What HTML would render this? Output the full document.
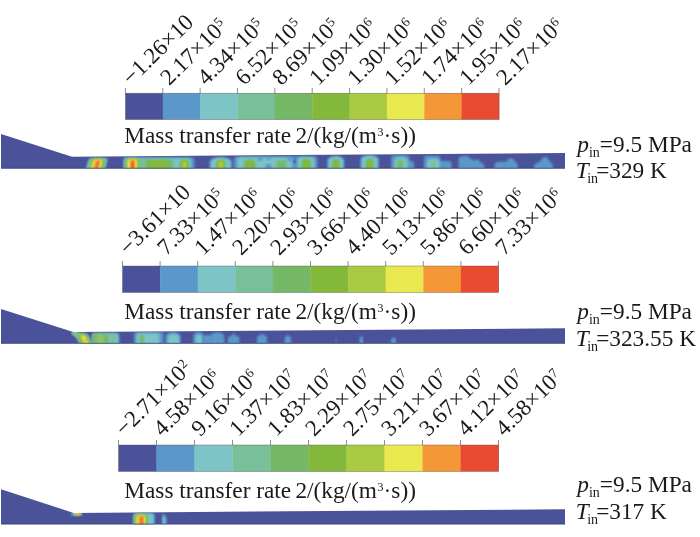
<!DOCTYPE html>
<html><head><meta charset="utf-8"><title>Mass transfer rate</title>
<style>
html,body{margin:0;padding:0;background:#fff;}
body{width:700px;height:537px;position:relative;overflow:hidden;font-family:"Liberation Serif",serif;color:#1a1a1a;}
svg{position:absolute;left:0;top:0;}
.t{position:absolute;white-space:nowrap;font-size:23.3px;line-height:1;}
.r{position:absolute;white-space:nowrap;font-size:23px;line-height:1;transform-origin:0 100%;transform:rotate(-44.5deg);}
.sup{font-size:13.5px;position:relative;top:-7px;margin-left:0.4px;}
.sub{font-size:14px;position:relative;top:5px;}
i{font-style:italic;}
</style></head><body>

<svg width="700" height="537" viewBox="0 0 700 537">
<defs><filter id="b1" x="-20%" y="-50%" width="140%" height="200%"><feGaussianBlur stdDeviation="0.8"/></filter><filter id="b2" x="-20%" y="-50%" width="140%" height="200%"><feGaussianBlur stdDeviation="1.0"/></filter></defs>
<clipPath id="c0"><polygon points="1,134.0 72,156.7 565,153.0 565,168.5 1,168.5"/></clipPath>
<polygon points="1,134.0 72,156.7 565,153.0 565,168.5 1,168.5" fill="#4a5299"/>
<g clip-path="url(#c0)">
<g transform="translate(95.8,168.5) skewX(-14) translate(-95.8,-168.5)"><path d="M86.0,172.0 L86.0,160.1 Q86.0,158.3 87.8,158.3 L103.7,158.3 Q105.5,158.3 105.5,160.1 L105.5,172.0 Z" fill="#5b97c9" filter="url(#b1)"/>
<path d="M87.0,172.0 L87.0,160.4 Q87.0,158.6 88.8,158.6 L102.7,158.6 Q104.5,158.6 104.5,160.4 L104.5,172.0 Z" fill="#7cc4c6" filter="url(#b1)"/>
<path d="M88.2,172.0 L88.2,160.7 Q88.2,158.9 90.0,158.9 L101.5,158.9 Q103.3,158.9 103.3,160.7 L103.3,172.0 Z" fill="#78bf9a" filter="url(#b1)"/>
<path d="M89.0,172.0 L89.0,161.0 Q89.0,159.2 90.8,159.2 L100.7,159.2 Q102.5,159.2 102.5,161.0 L102.5,172.0 Z" fill="#74b865" filter="url(#b1)"/>
<path d="M89.8,172.0 L89.8,161.2 Q89.8,159.4 91.6,159.4 L100.0,159.4 Q101.8,159.4 101.8,161.2 L101.8,172.0 Z" fill="#84b83a" filter="url(#b1)"/>
<path d="M90.6,172.0 L90.6,161.4 Q90.6,159.6 92.4,159.6 L99.2,159.6 Q101.0,159.6 101.0,161.4 L101.0,172.0 Z" fill="#a9cb43" filter="url(#b1)"/>
<path d="M91.4,172.0 L91.4,161.6 Q91.4,159.8 93.2,159.8 L98.4,159.8 Q100.2,159.8 100.2,161.6 L100.2,172.0 Z" fill="#e9e84e" filter="url(#b1)"/>
<path d="M93.0,172.0 L93.0,162.0 Q93.0,160.2 94.8,160.2 L96.9,160.2 Q98.7,160.2 98.7,162.0 L98.7,172.0 Z" fill="#f49737" filter="url(#b1)"/>
<path d="M95.6,172.0 L95.6,161.8 Q95.6,161.0 96.4,161.0 L96.4,161.0 Q97.2,161.0 97.2,161.8 L97.2,172.0 Z" fill="#e84a32" filter="url(#b1)"/></g>
<path d="M123.2,172.0 L123.2,160.6 Q123.2,157.6 126.2,157.6 L191.5,157.6 Q194.5,157.6 194.5,160.6 L194.5,172.0 Z" fill="#5b97c9" filter="url(#b1)"/>
<path d="M124.3,172.0 L124.3,161.3 Q124.3,158.3 127.3,158.3 L188.0,158.3 Q191.0,158.3 191.0,161.3 L191.0,172.0 Z" fill="#7cc4c6" filter="url(#b1)"/>
<path d="M137.0,172.0 L137.0,161.2 Q137.0,159.2 139.0,159.2 L172.5,159.2 Q174.5,159.2 174.5,161.2 L174.5,172.0 Z" fill="#78bf9a" filter="url(#b1)"/>
<path d="M125.3,172.0 L125.3,160.4 Q125.3,158.6 127.1,158.6 L137.7,158.6 Q139.5,158.6 139.5,160.4 L139.5,172.0 Z" fill="#78bf9a" filter="url(#b1)"/>
<path d="M125.9,172.0 L125.9,160.7 Q125.9,158.9 127.7,158.9 L137.2,158.9 Q139.0,158.9 139.0,160.7 L139.0,172.0 Z" fill="#74b865" filter="url(#b1)"/>
<path d="M126.5,172.0 L126.5,160.9 Q126.5,159.1 128.3,159.1 L136.6,159.1 Q138.4,159.1 138.4,160.9 L138.4,172.0 Z" fill="#84b83a" filter="url(#b1)"/>
<path d="M127.2,172.0 L127.2,161.1 Q127.2,159.3 129.0,159.3 L135.8,159.3 Q137.6,159.3 137.6,161.1 L137.6,172.0 Z" fill="#a9cb43" filter="url(#b1)"/>
<path d="M127.9,172.0 L127.9,161.3 Q127.9,159.5 129.7,159.5 L134.8,159.5 Q136.6,159.5 136.6,161.3 L136.6,172.0 Z" fill="#e9e84e" filter="url(#b1)"/>
<path d="M130.0,172.0 L130.0,161.8 Q130.0,160.0 131.8,160.0 L133.2,160.0 Q135.0,160.0 135.0,161.8 L135.0,172.0 Z" fill="#f49737" filter="url(#b1)"/>
<path d="M131.4,172.0 L131.4,161.9 Q131.4,160.8 132.6,160.8 L132.6,160.8 Q133.7,160.8 133.7,161.9 L133.7,172.0 Z" fill="#e84a32" filter="url(#b1)"/>
<path d="M146.0,172.0 L146.0,161.8 Q146.0,159.8 148.0,159.8 L170.0,159.8 Q172.0,159.8 172.0,161.8 L172.0,172.0 Z" fill="#74b865" filter="url(#b1)"/>
<path d="M149.5,172.0 L149.5,162.3 Q149.5,160.3 151.5,160.3 L165.0,160.3 Q167.0,160.3 167.0,162.3 L167.0,172.0 Z" fill="#84b83a" filter="url(#b1)"/>
<path d="M179.5,172.0 L179.5,163.2 A5.0,4.0 0 0 1 189.5,163.2 L189.5,172.0 Z" fill="#78bf9a" filter="url(#b1)"/>
<path d="M180.4,172.0 L180.4,163.6 A4.1,4.0 0 0 1 188.6,163.6 L188.6,172.0 Z" fill="#74b865" filter="url(#b1)"/>
<path d="M181.4,172.0 L181.4,163.2 A3.2,3.2 0 0 1 187.7,163.2 L187.7,172.0 Z" fill="#84b83a" filter="url(#b1)"/>
<path d="M182.3,172.0 L182.3,162.7 A2.2,2.2 0 0 1 186.8,162.7 L186.8,172.0 Z" fill="#a9cb43" filter="url(#b1)"/>
<path d="M209.5,172.0 L209.5,161.0 A11.2,4.0 0 0 1 232.0,161.0 L232.0,172.0 Z" fill="#5b97c9" filter="url(#b1)"/>
<path d="M211.1,172.0 L211.1,161.6 A9.7,4.0 0 0 1 230.4,161.6 L230.4,172.0 Z" fill="#7cc4c6" filter="url(#b1)"/>
<path d="M215.1,172.0 L215.1,163.1 A5.6,4.0 0 0 1 226.4,163.1 L226.4,172.0 Z" fill="#78bf9a" filter="url(#b1)"/>
<path d="M216.5,172.0 L216.5,163.6 A4.3,4.0 0 0 1 225.0,163.6 L225.0,172.0 Z" fill="#74b865" filter="url(#b1)"/>
<path d="M217.7,172.0 L217.7,163.1 A3.0,3.0 0 0 1 223.8,163.1 L223.8,172.0 Z" fill="#84b83a" filter="url(#b1)"/>
<path d="M218.7,172.0 L218.7,162.4 A2.0,2.0 0 0 1 222.8,162.4 L222.8,172.0 Z" fill="#a9cb43" filter="url(#b1)"/>
<path d="M234.0,172.0 L234.0,159.6 Q234.0,156.6 237.0,156.6 L314.5,156.6 Q317.5,156.6 317.5,159.6 L317.5,172.0 Z" fill="#5b97c9" filter="url(#b1)"/>
<path d="M237.5,172.0 L237.5,160.3 Q237.5,157.3 240.5,157.3 L289.0,157.3 Q292.0,157.3 292.0,160.3 L292.0,172.0 Z" fill="#7cc4c6" filter="url(#b1)"/>
<path d="M243.0,172.0 L243.0,163.0 A6.8,4.0 0 0 1 256.5,163.0 L256.5,172.0 Z" fill="#78bf9a" filter="url(#b1)"/>
<path d="M244.5,172.0 L244.5,163.6 A5.2,4.0 0 0 1 255.0,163.6 L255.0,172.0 Z" fill="#74b865" filter="url(#b1)"/>
<path d="M246.0,172.0 L246.0,163.9 A3.8,3.8 0 0 1 253.5,163.9 L253.5,172.0 Z" fill="#84b83a" filter="url(#b1)"/>
<path d="M257.5,160.5 L257.5,159.0 Q257.5,157.0 259.5,157.0 L261.0,157.0 Q263.0,157.0 263.0,159.0 L263.0,160.5 Z" fill="#5b97c9" filter="url(#b1)"/>
<path d="M266.5,159.8 L266.5,159.6 Q266.5,157.6 268.5,157.6 L269.5,157.6 Q271.5,157.6 271.5,159.6 L271.5,159.8 Z" fill="#5b97c9" filter="url(#b1)"/>
<path d="M265.5,172.0 L265.5,166.0 Q265.5,164.0 267.5,164.0 L269.5,164.0 Q271.5,164.0 271.5,166.0 L271.5,172.0 Z" fill="#5b97c9" filter="url(#b1)"/>
<path d="M287.5,161.0 L287.5,159.0 Q287.5,157.0 289.5,157.0 L290.0,157.0 Q292.0,157.0 292.0,159.0 L292.0,161.0 Z" fill="#5b97c9" filter="url(#b1)"/>
<path d="M275.5,172.0 L275.5,162.0 Q275.5,160.0 277.5,160.0 L285.5,160.0 Q287.5,160.0 287.5,162.0 L287.5,172.0 Z" fill="#78bf9a" filter="url(#b1)"/>
<path d="M277.5,172.0 L277.5,163.0 Q277.5,161.0 279.5,161.0 L283.5,161.0 Q285.5,161.0 285.5,163.0 L285.5,172.0 Z" fill="#74b865" filter="url(#b1)"/>
<path d="M293.5,163.0 L293.5,160.2 Q293.5,159.0 294.7,159.0 L294.8,159.0 Q296.0,159.0 296.0,160.2 L296.0,163.0 Z" fill="#4a5299" filter="url(#b1)"/>
<path d="M297.8,172.0 L297.8,160.0 Q297.8,157.0 300.8,157.0 L311.5,157.0 Q314.5,157.0 314.5,160.0 L314.5,172.0 Z" fill="#7cc4c6" filter="url(#b1)"/>
<path d="M300.5,172.0 L300.5,162.6 A5.5,4.0 0 0 1 311.5,162.6 L311.5,172.0 Z" fill="#78bf9a" filter="url(#b1)"/>
<path d="M302.0,172.0 L302.0,163.3 A4.2,4.0 0 0 1 310.5,163.3 L310.5,172.0 Z" fill="#74b865" filter="url(#b1)"/>
<path d="M303.5,172.0 L303.5,163.0 A3.0,3.0 0 0 1 309.5,163.0 L309.5,172.0 Z" fill="#84b83a" filter="url(#b1)"/>
<path d="M327.3,172.0 L327.3,160.0 A8.5,4.0 0 0 1 344.3,160.0 L344.3,172.0 Z" fill="#5b97c9" filter="url(#b1)"/>
<path d="M328.5,172.0 L328.5,160.8 A7.3,4.0 0 0 1 343.1,160.8 L343.1,172.0 Z" fill="#7cc4c6" filter="url(#b1)"/>
<path d="M331.6,172.0 L331.6,162.9 A4.2,4.0 0 0 1 340.1,162.9 L340.1,172.0 Z" fill="#78bf9a" filter="url(#b1)"/>
<path d="M332.6,172.0 L332.6,162.8 A3.2,3.2 0 0 1 339.0,162.8 L339.0,172.0 Z" fill="#74b865" filter="url(#b1)"/>
<path d="M333.5,172.0 L333.5,162.5 A2.3,2.3 0 0 1 338.1,162.5 L338.1,172.0 Z" fill="#84b83a" filter="url(#b1)"/>
<path d="M360.4,172.0 L360.4,159.0 A9.2,4.0 0 0 1 378.8,159.0 L378.8,172.0 Z" fill="#5b97c9" filter="url(#b1)"/>
<path d="M361.7,172.0 L361.7,159.9 A7.9,4.0 0 0 1 377.5,159.9 L377.5,172.0 Z" fill="#7cc4c6" filter="url(#b1)"/>
<path d="M365.0,172.0 L365.0,162.3 A4.6,4.0 0 0 1 374.2,162.3 L374.2,172.0 Z" fill="#78bf9a" filter="url(#b1)"/>
<path d="M366.1,172.0 L366.1,162.6 A3.5,3.5 0 0 1 373.1,162.6 L373.1,172.0 Z" fill="#74b865" filter="url(#b1)"/>
<path d="M367.1,172.0 L367.1,162.3 A2.5,2.5 0 0 1 372.1,162.3 L372.1,172.0 Z" fill="#84b83a" filter="url(#b1)"/>
<path d="M391.2,172.0 L391.2,158.2 Q391.2,155.2 394.2,155.2 L406.5,155.2 Q409.5,155.2 409.5,158.2 L409.5,172.0 Z" fill="#5b97c9" filter="url(#b1)"/>
<path d="M400.0,172.0 L400.0,164.0 Q400.0,161.0 403.0,161.0 L411.0,161.0 Q414.0,161.0 414.0,164.0 L414.0,172.0 Z" fill="#5b97c9" filter="url(#b1)"/>
<path d="M394.5,172.0 L394.5,161.0 A6.5,4.0 0 0 1 407.5,161.0 L407.5,172.0 Z" fill="#7cc4c6" filter="url(#b1)"/>
<path d="M396.2,172.0 L396.2,162.8 A4.2,4.0 0 0 1 404.8,162.8 L404.8,172.0 Z" fill="#78bf9a" filter="url(#b1)"/>
<path d="M398.0,172.0 L398.0,162.5 A2.0,2.0 0 0 1 402.0,162.5 L402.0,172.0 Z" fill="#74b865" filter="url(#b1)"/>
<path d="M424.0,172.0 L424.0,158.8 Q424.0,155.8 427.0,155.8 L437.5,155.8 Q440.5,155.8 440.5,158.8 L440.5,172.0 Z" fill="#5b97c9" filter="url(#b1)"/>
<path d="M432.0,172.0 L432.0,164.0 Q432.0,161.0 435.0,161.0 L448.5,161.0 Q451.5,161.0 451.5,164.0 L451.5,172.0 Z" fill="#5b97c9" filter="url(#b1)"/>
<path d="M427.2,172.0 L427.2,162.0 A6.2,4.0 0 0 1 439.5,162.0 L439.5,172.0 Z" fill="#7cc4c6" filter="url(#b1)"/>
<path d="M431.0,172.0 L431.0,163.0 A2.5,2.5 0 0 1 436.0,163.0 L436.0,172.0 Z" fill="#78bf9a" filter="url(#b1)"/>
<polygon points="458.5,172.0 458.5,158.5 460.5,156.2 468.0,156.0 470.5,158.5 474.0,160.8 475.5,159.6 478.5,159.6 480.0,161.8 483.0,163.5 484.5,166.0 484.5,172.0" fill="#5b97c9" filter="url(#b1)"/>
<polygon points="494.5,172.0 494.5,164.0 496.5,162.0 507.0,161.6 508.5,158.6 513.0,158.4 514.5,161.0 516.5,162.5 517.8,165.0 517.8,172.0" fill="#5b97c9" filter="url(#b1)"/>
<polygon points="534.0,172.0 534.0,165.5 536.5,163.0 540.0,161.5 543.0,157.2 546.5,156.8 549.0,160.5 552.0,163.5 553.0,166.0 553.0,172.0" fill="#5b97c9" filter="url(#b1)"/>
</g>
<line x1="1" y1="168.2" x2="565" y2="168.2" stroke="#3b426f" stroke-width="0.7"/>
<rect x="125.40" y="93.2" width="37.66" height="26.39999999999999" fill="#4a5299"/>
<rect x="162.76" y="93.2" width="37.66" height="26.39999999999999" fill="#5b97c9"/>
<rect x="200.12" y="93.2" width="37.66" height="26.39999999999999" fill="#7cc4c6"/>
<rect x="237.48" y="93.2" width="37.66" height="26.39999999999999" fill="#78bf9a"/>
<rect x="274.84" y="93.2" width="37.66" height="26.39999999999999" fill="#74b865"/>
<rect x="312.20" y="93.2" width="37.66" height="26.39999999999999" fill="#84b83a"/>
<rect x="349.56" y="93.2" width="37.66" height="26.39999999999999" fill="#a9cb43"/>
<rect x="386.92" y="93.2" width="37.66" height="26.39999999999999" fill="#e9e84e"/>
<rect x="424.28" y="93.2" width="37.66" height="26.39999999999999" fill="#f49737"/>
<rect x="461.64" y="93.2" width="37.66" height="26.39999999999999" fill="#e84a32"/>
<rect x="125.4" y="93.2" width="373.6" height="26.39999999999999" fill="none" stroke="#555" stroke-width="0.5" stroke-opacity="0.8"/>
<line x1="125.40" y1="88.0" x2="125.40" y2="93.2" stroke="#444" stroke-width="0.6"/>
<line x1="162.76" y1="88.0" x2="162.76" y2="93.2" stroke="#444" stroke-width="0.6"/>
<line x1="200.12" y1="88.0" x2="200.12" y2="93.2" stroke="#444" stroke-width="0.6"/>
<line x1="237.48" y1="88.0" x2="237.48" y2="93.2" stroke="#444" stroke-width="0.6"/>
<line x1="274.84" y1="88.0" x2="274.84" y2="93.2" stroke="#444" stroke-width="0.6"/>
<line x1="312.20" y1="88.0" x2="312.20" y2="93.2" stroke="#444" stroke-width="0.6"/>
<line x1="349.56" y1="88.0" x2="349.56" y2="93.2" stroke="#444" stroke-width="0.6"/>
<line x1="386.92" y1="88.0" x2="386.92" y2="93.2" stroke="#444" stroke-width="0.6"/>
<line x1="424.28" y1="88.0" x2="424.28" y2="93.2" stroke="#444" stroke-width="0.6"/>
<line x1="461.64" y1="88.0" x2="461.64" y2="93.2" stroke="#444" stroke-width="0.6"/>
<line x1="499.00" y1="88.0" x2="499.00" y2="93.2" stroke="#444" stroke-width="0.6"/>
<clipPath id="c1"><polygon points="1,309.0 73.2,332.1 565,328.3 565,343.6 1,343.6"/></clipPath>
<polygon points="1,309.0 73.2,332.1 565,328.3 565,343.6 1,343.6" fill="#4a5299"/>
<g clip-path="url(#c1)">
<path d="M73.6,332.6 L82.5,338.6" fill="none" stroke="#7cc4c6" stroke-width="4.6" stroke-linecap="round" filter="url(#b1)"/>
<path d="M73.8,332.7 L82.5,338.6" fill="none" stroke="#74b865" stroke-width="3.0" stroke-linecap="round" filter="url(#b1)"/>
<path d="M74.2,332.9 L82.5,338.6" fill="none" stroke="#a9cb43" stroke-width="1.6" stroke-linecap="round" filter="url(#b1)"/>
<g transform="translate(86,343.6) skewX(24) translate(-86,-343.6)"><path d="M79.6,347.0 L79.6,335.6 Q79.6,333.6 81.6,333.6 L90.0,333.6 Q92.0,333.6 92.0,335.6 L92.0,347.0 Z" fill="#7cc4c6" filter="url(#b1)"/>
<path d="M80.4,347.0 L80.4,336.0 Q80.4,334.0 82.4,334.0 L89.2,334.0 Q91.2,334.0 91.2,336.0 L91.2,347.0 Z" fill="#78bf9a" filter="url(#b1)"/>
<path d="M81.2,347.0 L81.2,336.3 Q81.2,334.3 83.2,334.3 L88.6,334.3 Q90.6,334.3 90.6,336.3 L90.6,347.0 Z" fill="#74b865" filter="url(#b1)"/>
<path d="M82.2,347.0 L82.2,336.6 Q82.2,334.6 84.2,334.6 L88.0,334.6 Q90.0,334.6 90.0,336.6 L90.0,347.0 Z" fill="#84b83a" filter="url(#b1)"/>
<path d="M83.4,347.0 L83.4,336.9 Q83.4,334.9 85.4,334.9 L87.2,334.9 Q89.2,334.9 89.2,336.9 L89.2,347.0 Z" fill="#a9cb43" filter="url(#b1)"/>
<path d="M84.6,347.0 L84.6,337.1 Q84.6,335.6 86.1,335.6 L86.7,335.6 Q88.2,335.6 88.2,337.1 L88.2,347.0 Z" fill="#e9e84e" filter="url(#b1)"/>
<path d="M85.8,347.0 L85.8,339.3 Q85.8,338.5 86.6,338.5 L86.6,338.5 Q87.4,338.5 87.4,339.3 L87.4,347.0 Z" fill="#f49737" filter="url(#b2)"/></g>
<path d="M92.0,347.0 L92.0,335.3 Q92.0,333.3 94.0,333.3 L117.6,333.3 Q119.6,333.3 119.6,335.3 L119.6,347.0 Z" fill="#5b97c9" filter="url(#b1)"/>
<path d="M92.3,347.0 L92.3,335.5 Q92.3,333.5 94.3,333.5 L116.0,333.5 Q118.0,333.5 118.0,335.5 L118.0,347.0 Z" fill="#7cc4c6" filter="url(#b1)"/>
<path d="M92.6,347.0 L92.6,335.6 A2.0,2.0 0 0 1 96.6,335.6 L96.6,347.0 Z" fill="#74b865" filter="url(#b1)"/>
<path d="M97.6,347.0 L97.6,336.0 A2.4,2.4 0 0 1 102.4,336.0 L102.4,347.0 Z" fill="#74b865" filter="url(#b1)"/>
<path d="M98.0,347.0 L98.0,335.8 A2.0,2.0 0 0 1 102.0,335.8 L102.0,347.0 Z" fill="#84b83a" filter="url(#b1)"/>
<path d="M98.6,347.0 L98.6,335.5 A1.5,1.5 0 0 1 101.6,335.5 L101.6,347.0 Z" fill="#a9cb43" filter="url(#b1)"/>
<path d="M102.6,347.0 L102.6,336.8 A3.0,3.0 0 0 1 108.6,336.8 L108.6,347.0 Z" fill="#78bf9a" filter="url(#b1)"/>
<path d="M104.3,347.0 L104.3,336.0 A2.0,2.0 0 0 1 108.3,336.0 L108.3,347.0 Z" fill="#74b865" filter="url(#b1)"/>
<path d="M110.0,347.0 L110.0,336.7 A2.9,2.9 0 0 1 115.8,336.7 L115.8,347.0 Z" fill="#78bf9a" filter="url(#b1)"/>
<path d="M134.0,347.0 L134.0,334.8 Q134.0,331.8 137.0,331.8 L160.5,331.8 Q163.5,331.8 163.5,334.8 L163.5,347.0 Z" fill="#5b97c9" filter="url(#b1)"/>
<path d="M136.5,347.0 L136.5,336.2 Q136.5,333.2 139.5,333.2 L156.5,333.2 Q159.5,333.2 159.5,336.2 L159.5,347.0 Z" fill="#7cc4c6" filter="url(#b1)"/>
<path d="M139.5,347.0 L139.5,336.0 Q139.5,334.5 141.0,334.5 L142.8,334.5 Q144.3,334.5 144.3,336.0 L144.3,347.0 Z" fill="#78bf9a" filter="url(#b1)"/>
<path d="M140.3,347.0 L140.3,336.5 Q140.3,335.0 141.8,335.0 L142.1,335.0 Q143.6,335.0 143.6,336.5 L143.6,347.0 Z" fill="#74b865" filter="url(#b1)"/>
<path d="M165.5,347.0 L165.5,336.0 A7.5,4.0 0 0 1 180.5,336.0 L180.5,347.0 Z" fill="#5b97c9" filter="url(#b1)"/>
<path d="M167.8,347.0 L167.8,337.4 A5.8,4.0 0 0 1 179.3,337.4 L179.3,347.0 Z" fill="#7cc4c6" filter="url(#b1)"/>
<path d="M193.3,347.0 L193.3,335.8 A5.2,4.0 0 0 1 203.8,335.8 L203.8,347.0 Z" fill="#5b97c9" filter="url(#b1)"/>
<path d="M195.6,347.0 L195.6,338.0 A3.2,3.2 0 0 1 202.0,338.0 L202.0,347.0 Z" fill="#7cc4c6" filter="url(#b1)"/>
<path d="M203.0,347.0 L203.0,336.5 Q203.0,335.0 204.5,335.0 L210.5,335.0 Q212.0,335.0 212.0,336.5 L212.0,347.0 Z" fill="#5b97c9" filter="url(#b1)"/>
<path d="M210.5,347.0 L210.5,336.2 A6.9,4.0 0 0 1 224.3,336.2 L224.3,347.0 Z" fill="#5b97c9" filter="url(#b1)"/>
<polygon points="227.9,347.0 227.9,337.5 229.0,336.2 231.5,336.0 233.6,332.6 235.8,336.0 238.3,336.2 239.4,337.5 239.4,347.0" fill="#5b97c9" filter="url(#b1)"/>
<polygon points="257.0,347.0 257.0,337.0 258.0,335.6 260.0,335.4 262.0,333.0 264.0,335.4 266.0,335.6 267.0,337.0 267.0,347.0" fill="#5b97c9" filter="url(#b1)"/>
<path d="M284.8,347.0 L284.8,338.5 A3.1,3.1 0 0 1 291.0,338.5 L291.0,347.0 Z" fill="#5b97c9" filter="url(#b1)"/>
<path d="M335.6,347.0 L335.6,337.5 Q335.6,337.0 336.1,337.0 L336.1,337.0 Q336.6,337.0 336.6,337.5 L336.6,347.0 Z" fill="#5b97c9" filter="url(#b1)"/>
<path d="M359.6,347.0 L359.6,337.8 A1.8,1.8 0 0 1 363.2,337.8 L363.2,347.0 Z" fill="#5b97c9" filter="url(#b1)"/>
<path d="M391.0,347.0 L391.0,339.9 A2.5,2.5 0 0 1 396.0,339.9 L396.0,347.0 Z" fill="#5b97c9" filter="url(#b1)"/>
</g>
<line x1="1" y1="343.3" x2="565" y2="343.3" stroke="#3b426f" stroke-width="0.7"/>
<rect x="122.50" y="266.0" width="37.90" height="26.5" fill="#4a5299"/>
<rect x="160.10" y="266.0" width="37.90" height="26.5" fill="#5b97c9"/>
<rect x="197.70" y="266.0" width="37.90" height="26.5" fill="#7cc4c6"/>
<rect x="235.30" y="266.0" width="37.90" height="26.5" fill="#78bf9a"/>
<rect x="272.90" y="266.0" width="37.90" height="26.5" fill="#74b865"/>
<rect x="310.50" y="266.0" width="37.90" height="26.5" fill="#84b83a"/>
<rect x="348.10" y="266.0" width="37.90" height="26.5" fill="#a9cb43"/>
<rect x="385.70" y="266.0" width="37.90" height="26.5" fill="#e9e84e"/>
<rect x="423.30" y="266.0" width="37.90" height="26.5" fill="#f49737"/>
<rect x="460.90" y="266.0" width="37.90" height="26.5" fill="#e84a32"/>
<rect x="122.5" y="266.0" width="376.0" height="26.5" fill="none" stroke="#555" stroke-width="0.5" stroke-opacity="0.8"/>
<line x1="122.50" y1="261.0" x2="122.50" y2="266.0" stroke="#444" stroke-width="0.6"/>
<line x1="160.10" y1="261.0" x2="160.10" y2="266.0" stroke="#444" stroke-width="0.6"/>
<line x1="197.70" y1="261.0" x2="197.70" y2="266.0" stroke="#444" stroke-width="0.6"/>
<line x1="235.30" y1="261.0" x2="235.30" y2="266.0" stroke="#444" stroke-width="0.6"/>
<line x1="272.90" y1="261.0" x2="272.90" y2="266.0" stroke="#444" stroke-width="0.6"/>
<line x1="310.50" y1="261.0" x2="310.50" y2="266.0" stroke="#444" stroke-width="0.6"/>
<line x1="348.10" y1="261.0" x2="348.10" y2="266.0" stroke="#444" stroke-width="0.6"/>
<line x1="385.70" y1="261.0" x2="385.70" y2="266.0" stroke="#444" stroke-width="0.6"/>
<line x1="423.30" y1="261.0" x2="423.30" y2="266.0" stroke="#444" stroke-width="0.6"/>
<line x1="460.90" y1="261.0" x2="460.90" y2="266.0" stroke="#444" stroke-width="0.6"/>
<line x1="498.50" y1="261.0" x2="498.50" y2="266.0" stroke="#444" stroke-width="0.6"/>
<clipPath id="c2"><polygon points="1,489.3 73.6,512.9 565,509.3 565,524.3 1,524.3"/></clipPath>
<polygon points="1,489.3 73.6,512.9 565,509.3 565,524.3 1,524.3" fill="#4a5299"/>
<g clip-path="url(#c2)">
<ellipse cx="76.5" cy="513.9" rx="5.6" ry="1.5" fill="#7cc4c6" filter="url(#b1)"/>
<ellipse cx="77.5" cy="513.8" rx="4.0" ry="1.2" fill="#e9e84e" filter="url(#b1)"/>
<ellipse cx="78.2" cy="513.7" rx="2.6" ry="0.9" fill="#f49737" filter="url(#b1)"/>
<path d="M133.4,528.0 L133.4,515.2 Q133.4,513.2 135.4,513.2 L152.6,513.2 Q154.6,513.2 154.6,515.2 L154.6,528.0 Z" fill="#5b97c9" filter="url(#b1)"/>
<path d="M133.8,528.0 L133.8,515.6 Q133.8,513.6 135.8,513.6 L151.6,513.6 Q153.6,513.6 153.6,515.6 L153.6,528.0 Z" fill="#7cc4c6" filter="url(#b1)"/>
<path d="M134.4,528.0 L134.4,516.4 Q134.4,514.4 136.4,514.4 L146.0,514.4 Q148.0,514.4 148.0,516.4 L148.0,528.0 Z" fill="#78bf9a" filter="url(#b1)"/>
<path d="M134.9,528.0 L134.9,516.8 Q134.9,514.8 136.9,514.8 L145.2,514.8 Q147.2,514.8 147.2,516.8 L147.2,528.0 Z" fill="#74b865" filter="url(#b1)"/>
<path d="M135.4,528.0 L135.4,517.0 Q135.4,515.0 137.4,515.0 L144.4,515.0 Q146.4,515.0 146.4,517.0 L146.4,528.0 Z" fill="#84b83a" filter="url(#b1)"/>
<path d="M136.0,528.0 L136.0,517.2 Q136.0,515.2 138.0,515.2 L143.6,515.2 Q145.6,515.2 145.6,517.2 L145.6,528.0 Z" fill="#a9cb43" filter="url(#b1)"/>
<path d="M136.7,528.0 L136.7,517.4 Q136.7,515.4 138.7,515.4 L142.8,515.4 Q144.8,515.4 144.8,517.4 L144.8,528.0 Z" fill="#e9e84e" filter="url(#b1)"/>
<path d="M138.3,528.0 L138.3,517.3 Q138.3,515.8 139.8,515.8 L141.5,515.8 Q143.0,515.8 143.0,517.3 L143.0,528.0 Z" fill="#f49737" filter="url(#b1)"/>
<path d="M141.2,528.0 L141.2,517.4 Q141.2,516.6 142.0,516.6 L142.0,516.6 Q142.8,516.6 142.8,517.4 L142.8,528.0 Z" fill="#e84a32" filter="url(#b1)"/>
<polygon points="162.0,528.0 162.0,515.0 163.0,513.8 164.5,514.5 165.5,516.0 166.8,518.0 166.8,528.0" fill="#5b97c9" filter="url(#b1)"/>
<path d="M162.8,528.0 L162.8,517.5 Q162.8,516.5 163.8,516.5 L164.2,516.5 Q165.2,516.5 165.2,517.5 L165.2,528.0 Z" fill="#7cc4c6" filter="url(#b1)"/>
</g>
<line x1="1" y1="524.0" x2="565" y2="524.0" stroke="#3b426f" stroke-width="0.7"/>
<rect x="118.50" y="445.0" width="38.30" height="26.5" fill="#4a5299"/>
<rect x="156.50" y="445.0" width="38.30" height="26.5" fill="#5b97c9"/>
<rect x="194.50" y="445.0" width="38.30" height="26.5" fill="#7cc4c6"/>
<rect x="232.50" y="445.0" width="38.30" height="26.5" fill="#78bf9a"/>
<rect x="270.50" y="445.0" width="38.30" height="26.5" fill="#74b865"/>
<rect x="308.50" y="445.0" width="38.30" height="26.5" fill="#84b83a"/>
<rect x="346.50" y="445.0" width="38.30" height="26.5" fill="#a9cb43"/>
<rect x="384.50" y="445.0" width="38.30" height="26.5" fill="#e9e84e"/>
<rect x="422.50" y="445.0" width="38.30" height="26.5" fill="#f49737"/>
<rect x="460.50" y="445.0" width="38.30" height="26.5" fill="#e84a32"/>
<rect x="118.5" y="445.0" width="380.0" height="26.5" fill="none" stroke="#555" stroke-width="0.5" stroke-opacity="0.8"/>
<line x1="118.50" y1="440.0" x2="118.50" y2="445.0" stroke="#444" stroke-width="0.6"/>
<line x1="156.50" y1="440.0" x2="156.50" y2="445.0" stroke="#444" stroke-width="0.6"/>
<line x1="194.50" y1="440.0" x2="194.50" y2="445.0" stroke="#444" stroke-width="0.6"/>
<line x1="232.50" y1="440.0" x2="232.50" y2="445.0" stroke="#444" stroke-width="0.6"/>
<line x1="270.50" y1="440.0" x2="270.50" y2="445.0" stroke="#444" stroke-width="0.6"/>
<line x1="308.50" y1="440.0" x2="308.50" y2="445.0" stroke="#444" stroke-width="0.6"/>
<line x1="346.50" y1="440.0" x2="346.50" y2="445.0" stroke="#444" stroke-width="0.6"/>
<line x1="384.50" y1="440.0" x2="384.50" y2="445.0" stroke="#444" stroke-width="0.6"/>
<line x1="422.50" y1="440.0" x2="422.50" y2="445.0" stroke="#444" stroke-width="0.6"/>
<line x1="460.50" y1="440.0" x2="460.50" y2="445.0" stroke="#444" stroke-width="0.6"/>
<line x1="498.50" y1="440.0" x2="498.50" y2="445.0" stroke="#444" stroke-width="0.6"/>
</svg>
<div id="txt" style="position:absolute;left:0;top:0;width:700px;height:537px;will-change:transform;">
<div class="r" style="left:134.4px;top:65.5px">−1.26×10</div>
<div class="r" style="left:171.8px;top:65.5px">2.17×10<span class="sup">5</span></div>
<div class="r" style="left:209.1px;top:65.5px">4.34×10<span class="sup">5</span></div>
<div class="r" style="left:246.5px;top:65.5px">6.52×10<span class="sup">5</span></div>
<div class="r" style="left:283.8px;top:65.5px">8.69×10<span class="sup">5</span></div>
<div class="r" style="left:321.2px;top:65.5px">1.09×10<span class="sup">6</span></div>
<div class="r" style="left:358.6px;top:65.5px">1.30×10<span class="sup">6</span></div>
<div class="r" style="left:395.9px;top:65.5px">1.52×10<span class="sup">6</span></div>
<div class="r" style="left:433.3px;top:65.5px">1.74×10<span class="sup">6</span></div>
<div class="r" style="left:470.6px;top:65.5px">1.95×10<span class="sup">6</span></div>
<div class="r" style="left:508.0px;top:65.5px">2.17×10<span class="sup">6</span></div>
<div class="t" style="left:124.3px;top:124.4px">Mass transfer rate<span style="margin-left:-1.6px"> </span>2/(kg/(m<span class="sup" style="font-size:12.5px;top:-7px">3</span>·s))</div>
<div class="t" style="font-size:23.3px;left:577.3px;top:132.9px"><i>p</i><span class="sub">in</span>=9.5 MPa</div>
<div class="t" style="font-size:23.3px;left:575.7px;top:159.2px"><i>T</i><span class="sub" style="margin-left:-1.5px;margin-right:-1.9px">in</span>=329 K</div>
<div class="r" style="left:131.2px;top:235.8px">−3.61×10</div>
<div class="r" style="left:168.8px;top:235.8px">7.33×10<span class="sup">5</span></div>
<div class="r" style="left:206.4px;top:235.8px">1.47×10<span class="sup">6</span></div>
<div class="r" style="left:244.0px;top:235.8px">2.20×10<span class="sup">6</span></div>
<div class="r" style="left:281.6px;top:235.8px">2.93×10<span class="sup">6</span></div>
<div class="r" style="left:319.2px;top:235.8px">3.66×10<span class="sup">6</span></div>
<div class="r" style="left:356.8px;top:235.8px">4.40×10<span class="sup">6</span></div>
<div class="r" style="left:394.4px;top:235.8px">5.13×10<span class="sup">6</span></div>
<div class="r" style="left:432.0px;top:235.8px">5.86×10<span class="sup">6</span></div>
<div class="r" style="left:469.6px;top:235.8px">6.60×10<span class="sup">6</span></div>
<div class="r" style="left:507.2px;top:235.8px">7.33×10<span class="sup">6</span></div>
<div class="t" style="left:124.3px;top:300.4px">Mass transfer rate<span style="margin-left:-1.6px"> </span>2/(kg/(m<span class="sup" style="font-size:12.5px;top:-7px">3</span>·s))</div>
<div class="t" style="font-size:23.3px;left:577.3px;top:300.3px"><i>p</i><span class="sub">in</span>=9.5 MPa</div>
<div class="t" style="font-size:23.3px;left:575.7px;top:327.3px"><i>T</i><span class="sub" style="margin-left:-1.5px;margin-right:-1.9px">in</span>=323.55 K</div>
<div class="r" style="left:126.7px;top:416.5px">−2.71×10<span class="sup">2</span></div>
<div class="r" style="left:164.7px;top:416.5px">4.58×10<span class="sup">6</span></div>
<div class="r" style="left:202.7px;top:416.5px">9.16×10<span class="sup">6</span></div>
<div class="r" style="left:240.7px;top:416.5px">1.37×10<span class="sup">7</span></div>
<div class="r" style="left:278.7px;top:416.5px">1.83×10<span class="sup">7</span></div>
<div class="r" style="left:316.7px;top:416.5px">2.29×10<span class="sup">7</span></div>
<div class="r" style="left:354.7px;top:416.5px">2.75×10<span class="sup">7</span></div>
<div class="r" style="left:392.7px;top:416.5px">3.21×10<span class="sup">7</span></div>
<div class="r" style="left:430.7px;top:416.5px">3.67×10<span class="sup">7</span></div>
<div class="r" style="left:468.7px;top:416.5px">4.12×10<span class="sup">7</span></div>
<div class="r" style="left:506.7px;top:416.5px">4.58×10<span class="sup">7</span></div>
<div class="t" style="left:124.3px;top:479.1px">Mass transfer rate<span style="margin-left:-1.6px"> </span>2/(kg/(m<span class="sup" style="font-size:12.5px;top:-7px">3</span>·s))</div>
<div class="t" style="font-size:23.3px;left:577.3px;top:473.3px"><i>p</i><span class="sub">in</span>=9.5 MPa</div>
<div class="t" style="font-size:23.3px;left:575.7px;top:499.7px"><i>T</i><span class="sub" style="margin-left:-1.5px;margin-right:-1.9px">in</span>=317 K</div>
</div>
</body></html>
